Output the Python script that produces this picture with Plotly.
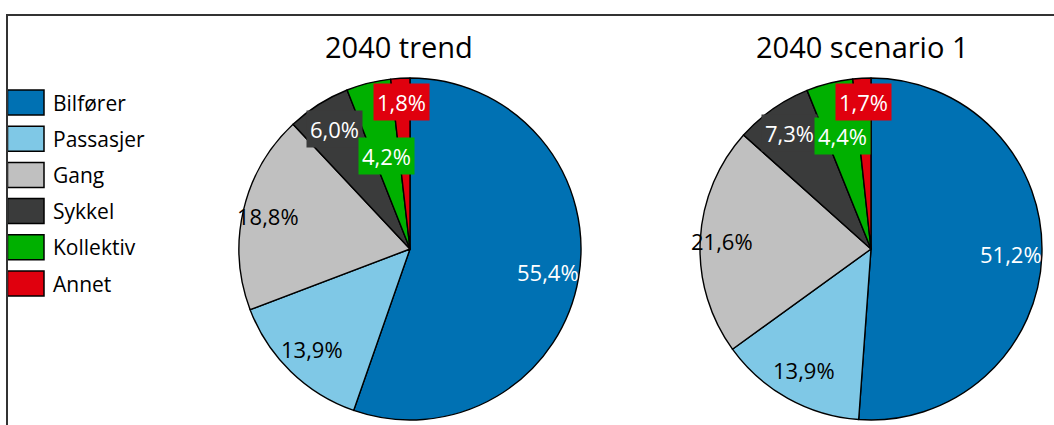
import math
import plotly.graph_objects as go

# Travel mode shares (%), 2040
categories = ["Bilfører", "Passasjer", "Gang", "Sykkel", "Kollektiv", "Annet"]
trend_values = [55.4, 13.9, 18.8, 6.0, 4.2, 1.8]
scenario1_values = [51.2, 13.9, 21.6, 7.3, 4.4, 1.7]
titles = ["2040 trend", "2040 scenario 1"]

colors = ["#0071B3", "#7FC8E6", "#C0C0C0", "#3A3B3B", "#00B000", "#E0000E"]
label_font_colors = ["white", "black", "black", "white", "white", "white"]
label_boxed = [False, False, False, True, True, True]

W, H = 1054, 425
FONT = "Open Sans"
R = 171  # pie radius in px

# pie centres (px), label radial factors per slice
pies = [
    dict(values=trend_values, title=titles[0], cx=410, cy=249, title_x=399,
         rf=[0.82, 0.82, 0.85, 0.83, 0.56, 0.86]),
    dict(values=scenario1_values, title=titles[1], cx=871, cy=249, title_x=862,
         rf=[0.82, 0.81, 0.87, 0.83, 0.68, 0.86]),
]


def px(x):
    return x / W


def py(y):
    return 1 - y / H


fig = go.Figure()
annotations = []
shapes = []

for p in pies:
    fig.add_trace(go.Pie(
        labels=categories,
        values=p["values"],
        sort=False,
        direction="clockwise",
        rotation=0,
        marker=dict(colors=colors, line=dict(color="black", width=1.4)),
        textinfo="none",
        hoverinfo="label+percent",
        showlegend=False,
        domain=dict(x=[px(p["cx"] - R), px(p["cx"] + R)],
                    y=[py(p["cy"] + R), py(p["cy"] - R)]),
    ))

    # data labels at slice mid-angles
    total = sum(p["values"])
    cum = 0.0
    for i, v in enumerate(p["values"]):
        mid = (cum + v / 2) / total * 2 * math.pi
        cum += v
        r = p["rf"][i] * R
        lx = p["cx"] + r * math.sin(mid)
        ly = p["cy"] - r * math.cos(mid)
        annotations.append(dict(
            x=px(lx), y=py(ly), xref="paper", yref="paper",
            text=f"{v:.1f}".replace(".", ",") + "%",
            showarrow=False,
            font=dict(family=FONT, size=22, color=label_font_colors[i]),
            bgcolor=colors[i] if label_boxed[i] else None,
            borderpad=3,
            xanchor="center", yanchor="middle",
        ))

    annotations.append(dict(
        x=px(p["title_x"]), y=py(46), xref="paper", yref="paper",
        text=p["title"], showarrow=False,
        font=dict(family=FONT, size=29, color="black"),
        xanchor="center", yanchor="middle",
    ))

# legend swatches
for i, (name, c) in enumerate(zip(categories, colors)):
    top = 90 + i * 36.2
    shapes.append(dict(
        type="rect", xref="paper", yref="paper",
        x0=px(7.5), x1=px(44), y0=py(top + 25), y1=py(top),
        fillcolor=c, line=dict(color="black", width=1.5),
    ))
    annotations.append(dict(
        x=px(51), y=py(top + 12.5), xref="paper", yref="paper",
        text=name, showarrow=False,
        font=dict(family=FONT, size=21, color="black"),
        xanchor="left", yanchor="middle",
    ))

# chart frame
shapes.append(dict(
    type="rect", xref="paper", yref="paper",
    x0=px(7), x1=1.2, y0=-0.2, y1=py(15),
    line=dict(color="#333333", width=2), fillcolor="rgba(0,0,0,0)",
))

fig.update_layout(
    width=W, height=H,
    margin=dict(l=0, r=0, t=0, b=0),
    paper_bgcolor="white",
    plot_bgcolor="white",
    separators=", ",
    annotations=annotations,
    shapes=shapes,
)

fig.write_html("out.html")
